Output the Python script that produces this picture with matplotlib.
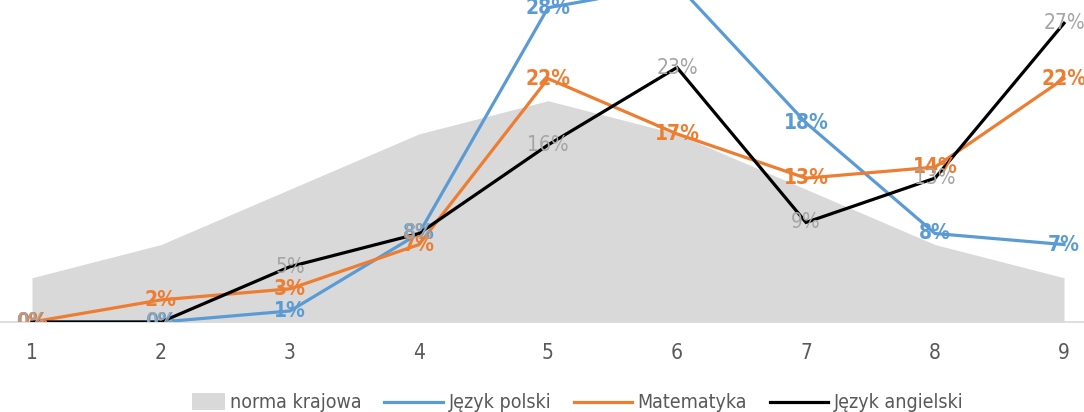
import matplotlib
matplotlib.use("Agg")
import matplotlib.pyplot as plt
from matplotlib.patches import Patch, Rectangle
from matplotlib.lines import Line2D
from matplotlib.legend_handler import HandlerPatch

categories = [1, 2, 3, 4, 5, 6, 7, 8, 9]
norma_krajowa = [4, 7, 12, 17, 20, 17, 12, 7, 4]
jezyk_polski = [0, 0, 1, 8, 28.4, 30.5, 18, 8, 7]
matematyka = [0, 2, 3, 7, 22, 17, 13, 14, 22]
jezyk_angielski = [0, 0, 5, 8, 16, 23, 9, 13, 27]

plt.rcParams['font.family'] = ['DejaVu Sans']
plt.rcParams['font.stretch'] = 'condensed'

fig = plt.figure(figsize=(10.84, 4.12), dpi=100)
ax = fig.add_axes([0, 0.2184, 1, 0.7816])

x = list(range(len(categories)))
ax.fill_between(x, norma_krajowa, 0, color='#D9D9D9', lw=0, zorder=1)

series = [
    (jezyk_polski, '#5B9BD5', '#5B9BD5', 'bold'),
    (matematyka, '#ED7D31', '#ED7D31', 'bold'),
    (jezyk_angielski, '#000000', '#A5A5A5', 'normal'),
]
for vals, c, lc, fw in series:
    ax.plot(x, vals, color=c, lw=2.3, zorder=3, solid_joinstyle='miter')
for vals, c, lc, fw in series:
    for xi, v in zip(x, vals):
        ax.text(xi, v, f"{round(v)}%", color=lc, fontsize=15, fontweight=fw,
                ha='center', va='center', zorder=5, clip_on=True)

ax.set_xlim(-0.248, 8.155)
ax.set_ylim(0, 29.1)
ax.set_xticks(x)
ax.set_xticklabels([str(c) for c in categories], color='#595959', fontsize=15)
ax.tick_params(axis='x', length=0, pad=15)
ax.set_yticks([])
for s in ['top', 'left', 'right']:
    ax.spines[s].set_visible(False)
ax.spines['bottom'].set_color('#D9D9D9')
ax.spines['bottom'].set_linewidth(1.2)


def small_patch(legend, orig_handle, xdescent, ydescent, width, height, fontsize):
    w = width * 0.55
    return Rectangle((width - w - xdescent, -ydescent - 0.1 * height), w, height * 1.2)


handles = [
    Patch(facecolor='#D9D9D9', edgecolor='none', label='norma krajowa'),
    Line2D([], [], color='#5B9BD5', lw=2.3, label='Język polski'),
    Line2D([], [], color='#ED7D31', lw=2.3, label='Matematyka'),
    Line2D([], [], color='#000000', lw=2.3, label='Język angielski'),
]
leg = fig.legend(handles=handles, loc='center', bbox_to_anchor=(0.521, 0.022),
                 ncol=4, frameon=False, fontsize=14, handlelength=3.0,
                 handletextpad=0.3, columnspacing=1.15,
                 handler_map={Patch: HandlerPatch(patch_func=small_patch)})
for t in leg.get_texts():
    t.set_color('#595959')

fig.savefig('out.png', dpi=100)
